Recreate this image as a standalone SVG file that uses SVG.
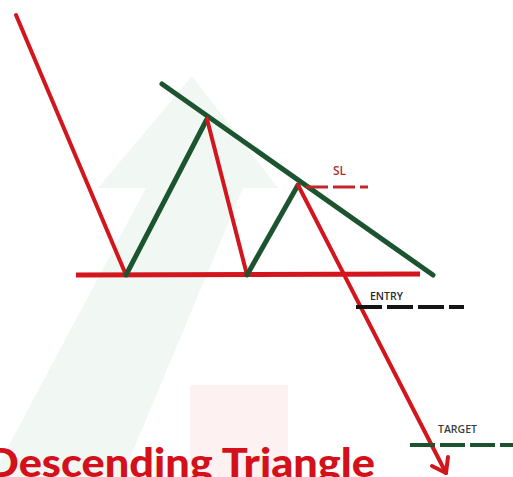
<svg xmlns="http://www.w3.org/2000/svg" width="513" height="477" viewBox="0 0 513 477">
  <style>
    .red { stroke: #d3161d; stroke-width: 4; stroke-linecap: round; fill: none; }
    .green { stroke: #1d5430; stroke-width: 5; stroke-linecap: round; fill: none; }
    .lbl { font-family: "Open Sans", "Liberation Sans", sans-serif; font-weight: 600; }
  </style>
  <rect width="513" height="477" fill="#ffffff"/>
  <g id="watermark">
    <polygon points="192,76 278,188 243,188 122,477 0,477 0,462 146,188 98,188" fill="#f1f7f2"/>
    <rect x="190" y="385" width="98" height="92" fill="#fdf1f1"/>
  </g>
  <g id="connectors">
    <line class="red" x1="16" y1="15" x2="126" y2="275"/>
    <line class="red" x1="76" y1="275" x2="420" y2="274" style="stroke-width:5;stroke-linecap:butt"/>
    <line class="green" x1="162" y1="84" x2="433" y2="275"/>
    <line class="green" x1="126" y1="275" x2="207" y2="119"/>
    <line class="red" x1="207" y1="119" x2="247" y2="275"/>
    <line class="green" x1="247" y1="275" x2="298" y2="185"/>
    <line class="red" x1="298" y1="185" x2="446" y2="473"/>
    <polyline class="red" points="448,457 446,473 432,466" style="stroke-linejoin:round"/>
  </g>
  <g id="sl">
    <line x1="306" y1="187" x2="368" y2="187" stroke="#c4252b" stroke-width="3" stroke-dasharray="22 5"/>
    <text class="lbl" x="333" y="175" font-size="12" fill="#b2323a">SL</text>
  </g>
  <g id="entry">
    <line x1="356" y1="307" x2="464" y2="307" stroke="#151515" stroke-width="4" stroke-dasharray="26 5"/>
    <text class="lbl" x="370" y="300" font-size="10.5" fill="#2a2a2a">ENTRY</text>
  </g>
  <g id="target">
    <line x1="410" y1="445" x2="513" y2="445" stroke="#1d5430" stroke-width="4" stroke-dasharray="25 5"/>
    <text class="lbl" x="438" y="433" font-size="10.5" fill="#3a3f3a">TARGET</text>
  </g>
  <g id="title">
    <text x="-14" y="477" font-family="Lato, 'Liberation Sans', sans-serif" font-weight="900" font-size="39" fill="#d4101a" textLength="389" lengthAdjust="spacingAndGlyphs">Descending Triangle</text>
  </g>
</svg>
